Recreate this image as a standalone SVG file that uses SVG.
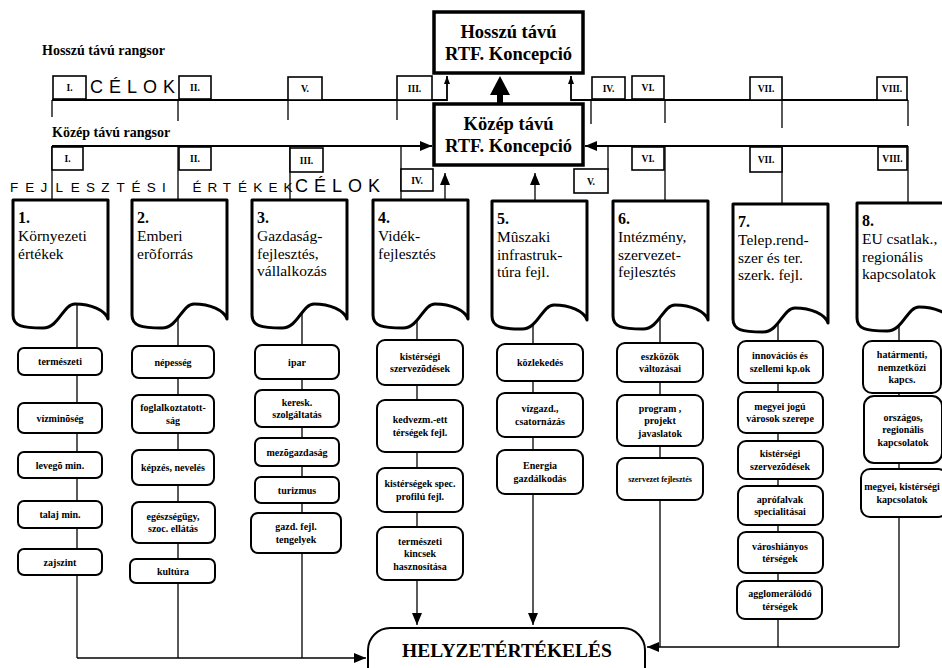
<svg xmlns="http://www.w3.org/2000/svg" xmlns:xlink="http://www.w3.org/1999/xlink" width="942" height="668" viewBox="0 0 942 668">
<style>
.ln{stroke:#000;stroke-width:1.3;fill:none}
.ax{stroke:#000;stroke-width:1.8;fill:none}
.bx{fill:#fff;stroke:#000;stroke-width:2}
.fl{fill:#fff;stroke:#000;stroke-width:1.6}
.doc{fill:#fff;stroke:#000;stroke-width:3;stroke-linejoin:round}
.main{fill:#fff;stroke:#000;stroke-width:3.5}
.t{font-family:"Liberation Serif","Times New Roman",serif;font-size:10px;font-weight:bold;text-anchor:middle}
.fn{font-family:"Liberation Serif","Times New Roman",serif;font-size:9.5px;font-weight:bold;text-anchor:middle}
.bt{font-family:"Liberation Serif","Times New Roman",serif;font-size:15.5px}
.num{font-weight:bold;font-size:16px}
.hd{font-family:"Liberation Serif","Times New Roman",serif;font-size:14px;font-weight:bold}
.ttl{font-family:"Liberation Serif","Times New Roman",serif;font-size:18.5px;font-weight:bold;text-anchor:middle}
.sp{font-family:"Liberation Sans",Arial,sans-serif;font-size:13.5px}
.cel{font-family:"Liberation Sans",Arial,sans-serif;font-size:18px;letter-spacing:6px}
.hz{font-family:"Liberation Serif","Times New Roman",serif;font-size:19.5px;font-weight:bold;text-anchor:middle}
</style>
<defs>
<marker id="ah" viewBox="0 0 12 10" refX="12" refY="5" markerWidth="12" markerHeight="10" markerUnits="userSpaceOnUse" orient="auto"><path d="M0,0 L12,5 L0,10 z" fill="#000"/></marker>
<marker id="as" viewBox="0 0 8 6" refX="8" refY="3" markerWidth="8" markerHeight="6" markerUnits="userSpaceOnUse" orient="auto"><path d="M0,0 L8,3 L0,6 z" fill="#000"/></marker>
<path id="doc" d="M0,0 H95 V119 C92,110 78,104 62,104 C50,104 46,128 30,128 C9,128 0,126 0,115 Z"/>
</defs>
<rect width="942" height="668" fill="#fff"/>

<g id="connectors">
<path class="ax" d="M52,100 H447 V76" marker-end="url(#as)"/>
<path class="ax" d="M908,100 H571 V76" marker-end="url(#as)"/>
<path class="ln" d="M52,100 V117 M178,100 V121 M288,100 V120 M397,100 V120 M591,100 V124 M665,100 V123 M782,100 V128 M908,100 V126"/>
<path class="ax" d="M52,146 H432" marker-end="url(#ah)"/>
<path class="ax" d="M908,146 H585" marker-end="url(#ah)"/>
<path class="ln" d="M52,146 V200 M178,146 V200 M290,146 V200 M401,146 V200 M608,146 V170 M665,146 V201 M782,146 V204 M908,146 V203"/>
<path class="ln" d="M445,200 V173" marker-end="url(#ah)"/>
<path class="ln" d="M535,201 V173" marker-end="url(#ah)"/>
<path d="M497,104 V95 H490 L500,76 L510,95 H503 V104 Z" fill="#000"/>
<path class="ln" d="M77,300 V658 M178,300 V658 M302,300 V658"/>
<path class="ln" d="M77,658 H366" marker-end="url(#ah)"/>
<path class="ln" d="M417,300 V625" marker-end="url(#ah)"/>
<path class="ln" d="M533,300 V625" marker-end="url(#ah)"/>
<path class="ln" d="M660,300 V647 M778,300 V647 M899,300 V647"/>
<path class="ln" d="M899,647 H647" marker-end="url(#ah)"/>
</g>

<text class="hd" x="42" y="55">Hosszú távú rangsor</text>
<text class="hd" x="52" y="137">Közép távú rangsor</text>
<text class="cel" x="90" y="93">CÉLOK</text>
<text class="cel" x="295" y="192">CÉLOK</text>
<text class="sp" y="192" x="10 25.2 40.4 55.6 70.8 86 101.2 116.4 131.6 146.8 162 192.4 207.6 222.8 238 253.2 268.4 283.6">FEJLESZTÉSIÉRTÉKEK</text>

<g id="hosszu-koncepcio">
<rect class="main" x="434" y="12" width="149" height="61"/>
<text class="ttl" x="508.5" y="38">Hosszú távú</text>
<text class="ttl" x="508.5" y="60">RTF. Koncepció</text>
</g>
<g id="kozep-koncepcio">
<rect class="main" x="434" y="104" width="149" height="61"/>
<text class="ttl" x="508.5" y="130">Közép távú</text>
<text class="ttl" x="508.5" y="152">RTF. Koncepció</text>
</g>

<g id="h-I"><rect class="fl" x="53" y="76" width="33" height="23"/><text class="fn" x="69.5" y="91">I.</text></g>
<g id="h-II"><rect class="fl" x="179" y="76" width="32" height="23"/><text class="fn" x="195" y="91">II.</text></g>
<g id="h-V"><rect class="fl" x="288" y="77" width="34" height="23"/><text class="fn" x="305" y="92">V.</text></g>
<g id="h-III"><rect class="fl" x="397" y="76" width="35" height="24"/><text class="fn" x="414.5" y="92">III.</text></g>
<g id="h-IV"><rect class="fl" x="592" y="77" width="33" height="22"/><text class="fn" x="608.5" y="92">IV.</text></g>
<g id="h-VI"><rect class="fl" x="632" y="76" width="32" height="23"/><text class="fn" x="648" y="91">VI.</text></g>
<g id="h-VII"><rect class="fl" x="750" y="77" width="32" height="23"/><text class="fn" x="766" y="92">VII.</text></g>
<g id="h-VIII"><rect class="fl" x="877" y="77" width="30" height="23"/><text class="fn" x="892" y="92">VIII.</text></g>

<g id="k-I"><rect class="fl" x="52" y="147" width="31" height="23"/><text class="fn" x="67.5" y="162">I.</text></g>
<g id="k-II"><rect class="fl" x="179" y="147" width="32" height="23"/><text class="fn" x="195" y="162">II.</text></g>
<g id="k-III"><rect class="fl" x="290" y="148" width="33" height="24"/><text class="fn" x="306.5" y="163.5">III.</text></g>
<g id="k-IV"><rect class="fl" x="401" y="169" width="32" height="22"/><text class="fn" x="417" y="184">IV.</text></g>
<g id="k-V"><rect class="fl" x="574" y="169" width="34" height="24"/><text class="fn" x="591" y="185">V.</text></g>
<g id="k-VI"><rect class="fl" x="632" y="147" width="32" height="23"/><text class="fn" x="648" y="162">VI.</text></g>
<g id="k-VII"><rect class="fl" x="750" y="147" width="32" height="25"/><text class="fn" x="766" y="163">VII.</text></g>
<g id="k-VIII"><rect class="fl" x="878" y="147" width="29" height="23"/><text class="fn" x="892.5" y="162">VIII.</text></g>

<g id="b1"><use href="#doc" class="doc" x="13" y="200"/><text class="bt" x="18"><tspan class="num" y="223">1.</tspan><tspan x="18" y="241">Környezeti</tspan><tspan x="18" y="258.5">értékek</tspan></text></g>
<g id="b2"><use href="#doc" class="doc" x="132" y="200"/><text class="bt" x="137"><tspan class="num" y="223">2.</tspan><tspan x="137" y="241">Emberi</tspan><tspan x="137" y="258.5">erõforrás</tspan></text></g>
<g id="b3"><use href="#doc" class="doc" x="252" y="200"/><text class="bt" x="257"><tspan class="num" y="223">3.</tspan><tspan x="257" y="241">Gazdaság-</tspan><tspan x="257" y="258.5">fejlesztés,</tspan><tspan x="257" y="276">vállalkozás</tspan></text></g>
<g id="b4"><use href="#doc" class="doc" x="373" y="200"/><text class="bt" x="378"><tspan class="num" y="223">4.</tspan><tspan x="378" y="241">Vidék-</tspan><tspan x="378" y="258.5">fejlesztés</tspan></text></g>
<g id="b5"><use href="#doc" class="doc" x="492" y="201"/><text class="bt" x="497"><tspan class="num" y="224">5.</tspan><tspan x="497" y="242">Mûszaki</tspan><tspan x="497" y="259.5">infrastruk-</tspan><tspan x="497" y="277">túra fejl.</tspan></text></g>
<g id="b6"><use href="#doc" class="doc" x="613" y="201"/><text class="bt" x="618"><tspan class="num" y="224">6.</tspan><tspan x="618" y="242">Intézmény,</tspan><tspan x="618" y="259.5">szervezet-</tspan><tspan x="618" y="277">fejlesztés</tspan></text></g>
<g id="b7"><use href="#doc" class="doc" x="733" y="204"/><text class="bt" x="738"><tspan class="num" y="227">7.</tspan><tspan x="738" y="245">Telep.rend-</tspan><tspan x="738" y="262.5">szer és ter.</tspan><tspan x="738" y="280">szerk. fejl.</tspan></text></g>
<g id="b8"><use href="#doc" class="doc" x="857" y="203"/><text class="bt" x="862"><tspan class="num" y="226">8.</tspan><tspan x="862" y="244">EU csatlak.,</tspan><tspan x="862" y="261.5">regionális</tspan><tspan x="862" y="279">kapcsolatok</tspan></text></g>

<g id="c1-1"><rect class="bx" x="18" y="348" width="84" height="27" rx="6"/><text class="t" x="60" y="365">természeti</text></g>
<g id="c1-2"><rect class="bx" x="18" y="403" width="84" height="30" rx="6"/><text class="t" x="60" y="421.5">vízminõség</text></g>
<g id="c1-3"><rect class="bx" x="18" y="452" width="84" height="26" rx="6"/><text class="t" x="60" y="468.5">levegõ min.</text></g>
<g id="c1-4"><rect class="bx" x="18" y="501" width="84" height="27" rx="6"/><text class="t" x="60" y="518">talaj min.</text></g>
<g id="c1-5"><rect class="bx" x="18" y="549" width="84" height="26" rx="6"/><text class="t" x="60" y="565.5">zajszint</text></g>

<g id="c2-1"><rect class="bx" x="132" y="346" width="82" height="32" rx="7"/><text class="t" x="173" y="365.5">népesség</text></g>
<g id="c2-2"><rect class="bx" x="132" y="395" width="82" height="38" rx="7"/><text class="t" x="173" y="411.25">foglalkoztatott-<tspan x="173" dy="12.5">ság</tspan></text></g>
<g id="c2-3"><rect class="bx" x="132" y="450" width="82" height="35" rx="7"/><text class="t" x="173" y="471">képzés, nevelés</text></g>
<g id="c2-4"><rect class="bx" x="132" y="502" width="83" height="41" rx="7"/><text class="t" x="173" y="519.75">egészségügy,<tspan x="173" dy="12.5">szoc. ellátás</tspan></text></g>
<g id="c2-5"><rect class="bx" x="130" y="559" width="85" height="24" rx="6"/><text class="t" x="173" y="574.5">kultúra</text></g>

<g id="c3-1"><rect class="bx" x="255" y="345" width="84" height="34" rx="7"/><text class="t" x="297" y="365.5">ipar</text></g>
<g id="c3-2"><rect class="bx" x="255" y="390" width="84" height="37" rx="7"/><text class="t" x="297" y="405.75">keresk.<tspan x="297" dy="12.5">szolgáltatás</tspan></text></g>
<g id="c3-3"><rect class="bx" x="255" y="438" width="84" height="28" rx="6"/><text class="t" x="297" y="455.5">mezõgazdaság</text></g>
<g id="c3-4"><rect class="bx" x="255" y="477" width="84" height="26" rx="6"/><text class="t" x="297" y="493.5">turizmus</text></g>
<g id="c3-5"><rect class="bx" x="251" y="513" width="90" height="40" rx="7"/><text class="t" x="296" y="529.5">gazd. fejl.<tspan x="296" dy="13.5">tengelyek</tspan></text></g>

<g id="c4-1"><rect class="bx" x="377" y="340" width="86" height="45" rx="8"/><text class="t" x="420" y="359.75">kistérségi<tspan x="420" dy="12.5">szervezõdések</tspan></text></g>
<g id="c4-2"><rect class="bx" x="377" y="400" width="86" height="52" rx="8"/><text class="t" x="420" y="423.25">kedvezm.-ett<tspan x="420" dy="12.5">térségek fejl.</tspan></text></g>
<g id="c4-3"><rect class="bx" x="377" y="468" width="86" height="44" rx="8"/><text class="t" x="420" y="487.25">kistérségek spec.<tspan x="420" dy="12.5">profilú fejl.</tspan></text></g>
<g id="c4-4"><rect class="bx" x="377" y="527" width="86" height="53" rx="8"/><text class="t" x="420" y="544.5">természeti<tspan x="420" dy="12.5">kincsek</tspan><tspan x="420" dy="12.5">hasznosítása</tspan></text></g>

<g id="c5-1"><rect class="bx" x="497" y="344" width="86" height="37" rx="8"/><text class="t" x="540" y="366">közlekedés</text></g>
<g id="c5-2"><rect class="bx" x="497" y="393" width="86" height="44" rx="8"/><text class="t" x="540" y="412.25">vízgazd.,<tspan x="540" dy="12.5">csatornázás</tspan></text></g>
<g id="c5-3"><rect class="bx" x="497" y="450" width="86" height="44" rx="8"/><text class="t" x="540" y="469.25">Energia<tspan x="540" dy="12.5">gazdálkodás</tspan></text></g>

<g id="c6-1"><rect class="bx" x="617" y="343" width="86" height="39" rx="8"/><text class="t" x="660" y="359.75">eszközök<tspan x="660" dy="12.5">változásai</tspan></text></g>
<g id="c6-2"><rect class="bx" x="617" y="395" width="86" height="51" rx="8"/><text class="t" x="660" y="411.5">program ,<tspan x="660" dy="12.5">projekt</tspan><tspan x="660" dy="12.5">javaslatok</tspan></text></g>
<g id="c6-3"><rect class="bx" x="617" y="458" width="86" height="42" rx="8"/><text class="t" x="660" y="482" style="font-size:8px">szervezet fejlesztés</text></g>

<g id="c7-1"><rect class="bx" x="738" y="341" width="85" height="42" rx="8"/><text class="t" x="780" y="359.25">innovációs és<tspan x="780" dy="12.5">szellemi kp.ok</tspan></text></g>
<g id="c7-2"><rect class="bx" x="738" y="392" width="85" height="41" rx="8"/><text class="t" x="780" y="409.75">megyei jogú<tspan x="780" dy="12.5">városok szerepe</tspan></text></g>
<g id="c7-3"><rect class="bx" x="738" y="441" width="85" height="38" rx="8"/><text class="t" x="780" y="457.25">kistérségi<tspan x="780" dy="12.5">szervezõdések</tspan></text></g>
<g id="c7-4"><rect class="bx" x="738" y="486" width="85" height="39" rx="8"/><text class="t" x="780" y="502.75">aprófalvak<tspan x="780" dy="12.5">specialitásai</tspan></text></g>
<g id="c7-5"><rect class="bx" x="738" y="532" width="85" height="41" rx="8"/><text class="t" x="780" y="549.75">városhiányos<tspan x="780" dy="12.5">térségek</tspan></text></g>
<g id="c7-6"><rect class="bx" x="737" y="581" width="85" height="38" rx="8"/><text class="t" x="780" y="597.25">agglomerálódó<tspan x="780" dy="12.5">térségek</tspan></text></g>

<g id="c8-1"><rect class="bx" x="863" y="341" width="78" height="52" rx="9"/><text class="t" x="902" y="358">határmenti,<tspan x="902" dy="12.5">nemzetközi</tspan><tspan x="902" dy="12.5">kapcs.</tspan></text></g>
<g id="c8-2"><rect class="bx" x="864" y="396" width="78" height="67" rx="10"/><text class="t" x="903" y="420.5">országos,<tspan x="903" dy="12.5">regionális</tspan><tspan x="903" dy="12.5">kapcsolatok</tspan></text></g>
<g id="c8-3"><rect class="bx" x="861" y="469" width="86" height="48" rx="9"/><text class="t" x="902" y="490.25">megyei, kistérségi<tspan x="902" dy="12.5">kapcsolatok</tspan></text></g>

<g id="helyzetertekeles">
<rect x="368" y="628" width="277" height="62" rx="22" fill="#fff" stroke="#000" stroke-width="2"/>
<text class="hz" x="507" y="657">HELYZETÉRTÉKELÉS</text>
</g>
</svg>
